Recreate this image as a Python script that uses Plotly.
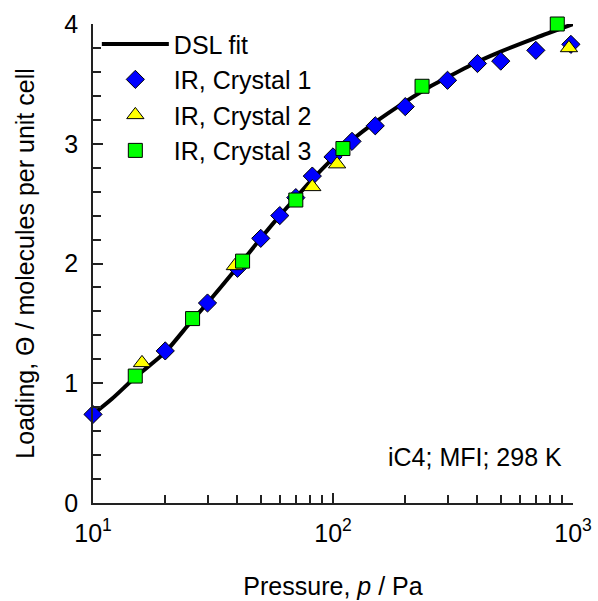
import plotly.graph_objects as go

# Isotherm of iC4 in MFI at 298 K: pressure (Pa) vs loading (molecules per unit cell)

# DSL fit curve
fit_p = [10, 12, 15, 20, 25, 30, 40, 50, 60, 70, 80, 100, 120, 150, 200, 250, 300, 400, 500, 700, 1000]
fit_q = [0.74, 0.87, 1.05, 1.26, 1.49, 1.67, 1.97, 2.21, 2.40, 2.55, 2.68, 2.88, 3.03, 3.18, 3.35,
         3.47, 3.555, 3.685, 3.77, 3.885, 4.00]

# IR data, crystal 1
c1_p = [10, 20, 30, 40, 50, 60, 70, 82, 100, 120, 150, 200, 300, 400, 500, 700, 980]
c1_q = [0.74, 1.27, 1.67, 1.96, 2.21, 2.40, 2.55, 2.73, 2.89, 3.02, 3.15, 3.31, 3.53, 3.67, 3.69, 3.78, 3.83]

# IR data, crystal 2
c2_p = [16, 39, 82, 104, 962]
c2_q = [1.17, 1.98, 2.64, 2.83, 3.80]

# IR data, crystal 3
c3_p = [15, 26, 42, 70, 110, 235, 860]
c3_q = [1.06, 1.54, 2.02, 2.53, 2.96, 3.48, 4.00]

x_tickvals = [10, 100, 1000]
x_ticktext = ["10<sup>1</sup>", "10<sup>2</sup>", "10<sup>3</sup>"]
x_minor = [20, 30, 40, 50, 60, 70, 80, 90, 200, 300, 400, 500, 600, 700, 800, 900]

FONT = "Arial, Liberation Sans, sans-serif"
AXIS_COLOR = "#222222"

fig = go.Figure()

fig.add_trace(go.Scatter(
    x=fit_p, y=fit_q, mode="lines", name="DSL fit", cliponaxis=False,
    line=dict(color="black", width=4, shape="spline", smoothing=0.7),
))
fig.add_trace(go.Scatter(
    x=c1_p, y=c1_q, mode="markers", name="IR, Crystal 1", cliponaxis=False,
    marker=dict(symbol="diamond", size=14, color="#0000ff", line=dict(color="black", width=1)),
))
fig.add_trace(go.Scatter(
    x=c2_p, y=c2_q, mode="markers", name="IR, Crystal 2", cliponaxis=False,
    marker=dict(symbol="triangle-up", size=15, color="#ffff00", line=dict(color="black", width=1)),
))
fig.add_trace(go.Scatter(
    x=c3_p, y=c3_q, mode="markers", name="IR, Crystal 3", cliponaxis=False,
    marker=dict(symbol="square", size=14, color="#00ff00", line=dict(color="black", width=1)),
))

fig.add_annotation(
    text="iC4; MFI; 298 K", xref="paper", yref="paper",
    x=0.981, y=0.095, xanchor="right", yanchor="middle",
    showarrow=False, font=dict(size=25, color="black", family=FONT),
)

fig.update_layout(
    width=598, height=601,
    margin=dict(l=93, r=25, t=24, b=98, autoexpand=False),
    paper_bgcolor="white", plot_bgcolor="white",
    font=dict(family=FONT, size=25, color="black"),
    showlegend=True,
    legend=dict(
        x=0.008, y=1.006, xanchor="left", yanchor="top",
        bgcolor="rgba(0,0,0,0)", borderwidth=0,
        font=dict(size=25, color="black", family=FONT),
        itemwidth=67,
    ),
    xaxis=dict(
        type="log", range=[1, 3], automargin=False,
        showline=True, linecolor=AXIS_COLOR, linewidth=1.5, mirror=False,
        showgrid=False, zeroline=False,
        ticks="inside", ticklen=10, tickwidth=1.5, tickcolor=AXIS_COLOR,
        tickmode="array", tickvals=x_tickvals, ticktext=x_ticktext,
        minor=dict(ticks="inside", ticklen=8, tickwidth=1.5, tickcolor=AXIS_COLOR,
                   tickmode="array", tickvals=x_minor, showgrid=False),
        title=dict(text="Pressure, <i>p</i> / Pa", font=dict(size=25), standoff=32),
        tickfont=dict(size=25),
        ticklabelstandoff=7,
    ),
    yaxis=dict(
        range=[0, 4], automargin=False,
        showline=True, linecolor=AXIS_COLOR, linewidth=1.5, mirror=False,
        showgrid=False, zeroline=False,
        ticks="inside", ticklen=10, tickwidth=1.5, tickcolor=AXIS_COLOR,
        tickmode="linear", tick0=0, dtick=1,
        minor=dict(ticks="inside", ticklen=8, tickwidth=1.5, tickcolor=AXIS_COLOR,
                   dtick=0.2, showgrid=False),
        title=dict(text="Loading, Θ / molecules per unit cell", font=dict(size=25), standoff=23),
        tickfont=dict(size=25),
        ticklabelstandoff=8,
    ),
)

fig.write_html("out.html")
